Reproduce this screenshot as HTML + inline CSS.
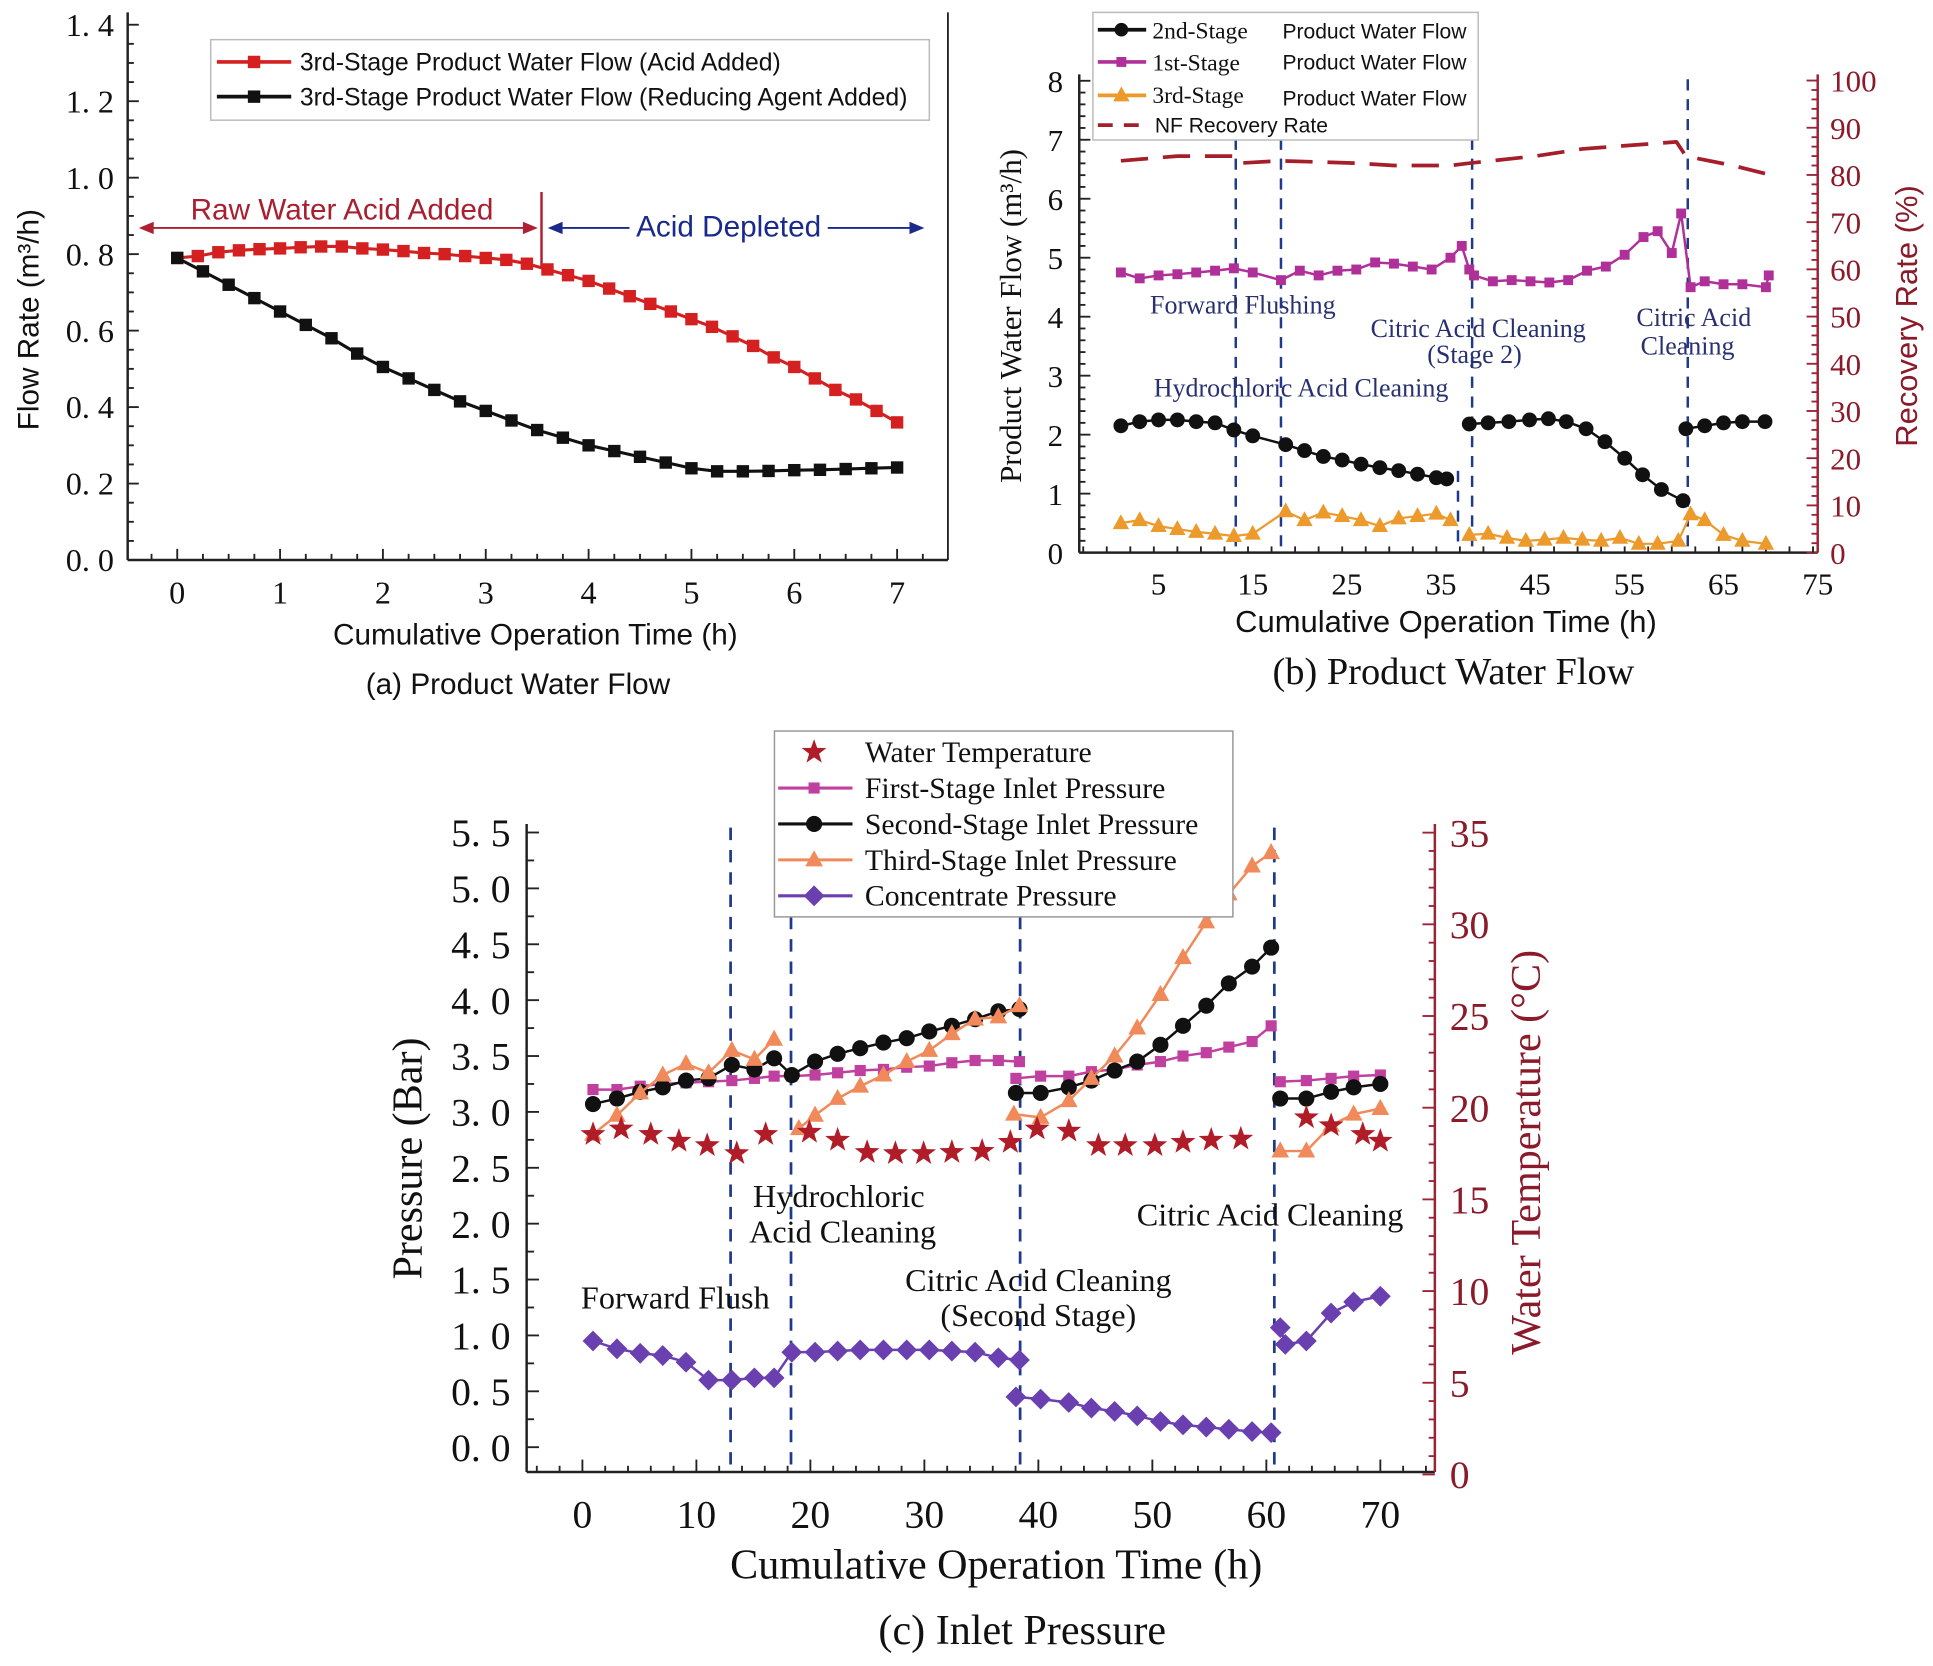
<!DOCTYPE html>
<html><head><meta charset="utf-8">
<style>
html,body{margin:0;padding:0;background:#fff;}
svg{display:block;}
text{font-family:"Liberation Serif",serif;}
.sans{font-family:"Liberation Sans",sans-serif;}
</style></head>
<body>
<svg id="fig" xmlns="http://www.w3.org/2000/svg" width="1933" height="1666" viewBox="0 0 1560 1344.6"></svg>
<script>
// ---------- Panel (a) data ----------
const aRedT = [0,0.2,0.4,0.6,0.8,1,1.2,1.4,1.6,1.8,2,2.2,2.4,2.6,2.8,3,3.2,3.4,3.6,3.8,4,4.2,4.4,4.6,4.8,5,5.2,5.4,5.6,5.8,6,6.2,6.4,6.6,6.8,7];
const aRedV = [0.79,0.795,0.805,0.81,0.813,0.815,0.818,0.82,0.82,0.815,0.812,0.808,0.803,0.80,0.795,0.79,0.785,0.775,0.76,0.745,0.73,0.71,0.69,0.67,0.65,0.63,0.61,0.585,0.56,0.53,0.505,0.475,0.445,0.42,0.39,0.36];
const aBlkT = [0,0.25,0.5,0.75,1,1.25,1.5,1.75,2,2.25,2.5,2.75,3,3.25,3.5,3.75,4,4.25,4.5,4.75,5,5.25,5.5,5.75,6,6.25,6.5,6.75,7];
const aBlkV = [0.79,0.755,0.72,0.685,0.65,0.615,0.58,0.54,0.505,0.475,0.445,0.415,0.39,0.365,0.34,0.32,0.30,0.285,0.27,0.255,0.24,0.232,0.232,0.233,0.235,0.236,0.238,0.24,0.242];
const aYTicks = [0,0.2,0.4,0.6,0.8,1.0,1.2,1.4];
const aYLabels = ["0. 0","0. 2","0. 4","0. 6","0. 8","1. 0","1. 2","1. 4"];
const aXTicks = [0,1,2,3,4,5,6,7];

// ---------- Panel (b) data ----------
const b2T = [[1,3,5,7,9,11,13,15,18.5,20.5,22.5,24.5,26.5,28.5,30.5,32.5,34.5,35.6],[38,40,42.2,44.4,46.4,48.3,50.4,52.4,54.5,56.4,58.4,60.7],[61,63,65,67,69.4]];
const b2V = [[2.15,2.22,2.25,2.25,2.22,2.2,2.08,1.98,1.83,1.73,1.63,1.57,1.5,1.44,1.39,1.33,1.27,1.25],[2.18,2.2,2.22,2.25,2.27,2.22,2.1,1.88,1.6,1.32,1.07,0.88],[2.1,2.15,2.2,2.22,2.22]];
const b1T = [[1,3,5,7,9,11,13,15,18,20,22,24,26,28,30,32,34,36,37.2,38],[38.5,40.5,42.5,44.5,46.5,48.5,50.5,52.5,54.5,56.5,58,59.5,60.5,61.5,63,65,67,69.5,69.8]];
const b1V = [[4.75,4.65,4.7,4.72,4.75,4.78,4.82,4.75,4.62,4.78,4.7,4.78,4.8,4.92,4.9,4.85,4.8,5.0,5.2,4.8],[4.7,4.6,4.62,4.6,4.58,4.62,4.78,4.85,5.05,5.35,5.45,5.08,5.75,4.5,4.6,4.55,4.55,4.5,4.7]];
const b3T = [[1,3,5,7,9,11,13,15,18.5,20.5,22.5,24.5,26.5,28.5,30.5,32.5,34.5,36],[38,40,42,44,46,48,50,52,54,56,58,60.2,61.5,63,65,67,69.5]];
const b3V = [[0.5,0.55,0.45,0.4,0.35,0.32,0.28,0.32,0.7,0.55,0.68,0.62,0.55,0.45,0.58,0.62,0.66,0.55],[0.3,0.32,0.25,0.2,0.22,0.25,0.22,0.2,0.25,0.15,0.15,0.2,0.65,0.55,0.3,0.2,0.15]];
const bRecT = [1,7,13,13.5,18,26,30,36,38,45,50,60,61,66,70];
const bRecV = [83,84,84,82.5,83,82.5,82,82,82.5,84,85.5,87,84,82,80];
const bYTicks = [0,1,2,3,4,5,6,7,8];
const bRTicks = [0,10,20,30,40,50,60,70,80,90,100];
const bXTicks = [5,15,25,35,45,55,65,75];
const bVLines = [13.2,18,38.3,61.2];

// ---------- Panel (c) data ----------
const cConT = [[0.93,3.03,5.07,7.05,9.09,11.07,13.11,15.09,16.82,18.37,20.41,22.39,24.37,26.41,28.45,30.43,32.41,34.45,36.49,38.34],[38.03,40.2,42.67,44.65,46.69,48.67,50.71,52.69,54.73,56.71,58.75,60.42],[61.22,61.66,63.51,65.68,67.66,70]];
const cConV = [[0.95,0.88,0.84,0.82,0.76,0.6,0.6,0.62,0.62,0.85,0.85,0.86,0.87,0.87,0.87,0.87,0.86,0.85,0.8,0.78],[0.45,0.43,0.4,0.35,0.32,0.28,0.23,0.2,0.18,0.16,0.14,0.13],[1.07,0.92,0.95,1.2,1.3,1.35]];
const c1T = [[0.93,3.03,5.07,7.05,9.09,11.07,13.11,15.09,16.82,18.37,20.41,22.39,24.37,26.41,28.45,30.43,32.41,34.45,36.49,38.34],[38.03,40.2,42.67,44.65,46.69,48.67,50.71,52.69,54.73,56.71,58.75,60.42],[61.22,63.51,65.68,67.66,70]];
const c1V = [[3.2,3.2,3.23,3.25,3.26,3.27,3.28,3.3,3.32,3.32,3.33,3.35,3.37,3.38,3.4,3.41,3.44,3.46,3.46,3.45],[3.3,3.32,3.32,3.36,3.38,3.42,3.45,3.5,3.53,3.58,3.63,3.77],[3.27,3.28,3.3,3.32,3.33]];
const c2T = [[0.93,3.03,5.07,7.05,9.09,11.07,13.11,15.09,16.82,18.37,20.41,22.39,24.37,26.41,28.45,30.43,32.41,34.45,36.49,38.34],[38.03,40.2,42.67,44.65,46.69,48.67,50.71,52.69,54.73,56.71,58.75,60.42],[61.22,63.51,65.68,67.66,70]];
const c2V = [[3.07,3.12,3.18,3.22,3.28,3.3,3.42,3.38,3.48,3.33,3.45,3.52,3.57,3.62,3.66,3.72,3.77,3.83,3.9,3.92],[3.17,3.17,3.22,3.28,3.37,3.45,3.6,3.77,3.95,4.15,4.3,4.47],[3.12,3.12,3.18,3.22,3.25]];
const c3T = [[0.93,3.03,5.07,7.05,9.09,11.07,13.11,15.09,16.82],[18.99,20.41,22.39,24.37,26.41,28.45,30.43,32.41,34.45,36.49,38.34],[37.85,40.2,42.67,44.65,46.69,48.67,50.71,52.69,54.73,56.71,58.75,60.42],[61.22,63.51,65.68,67.66,70]];
const c3V = [[2.8,2.97,3.17,3.33,3.43,3.35,3.55,3.47,3.65],[2.85,2.97,3.12,3.23,3.33,3.45,3.55,3.7,3.83,3.85,3.95],[2.98,2.95,3.1,3.3,3.5,3.75,4.05,4.38,4.7,4.95,5.2,5.32],[2.65,2.65,2.88,2.98,3.03]];
const cTempT = [0.93,3.4,6.0,8.47,10.95,13.54,16.08,19.91,22.39,24.98,27.46,29.93,32.41,35.07,37.54,39.89,42.67,45.27,47.62,50.22,52.69,55.16,57.76,63.51,65.68,68.46,70];
const cTempV = [18.55,18.85,18.55,18.18,17.94,17.51,18.55,18.67,18.24,17.57,17.51,17.51,17.57,17.63,18.12,18.85,18.73,17.94,17.94,17.94,18.12,18.24,18.3,19.46,19.03,18.55,18.18];
const cYTicks = [0,0.5,1,1.5,2,2.5,3,3.5,4,4.5,5,5.5];
const cYLabels = ["0. 0","0. 5","1. 0","1. 5","2. 0","2. 5","3. 0","3. 5","4. 0","4. 5","5. 0","5. 5"];
const cRTicks = [0,5,10,15,20,25,30,35];
const cXTicks = [0,10,20,30,40,50,60,70];
const cVLines = [13,18.3,38.4,60.7];

const NS = "http://www.w3.org/2000/svg";
const svg = document.getElementById('fig');
function mk(tag, attrs, parent){
  const e = document.createElementNS(NS, tag);
  for (const k in attrs) e.setAttribute(k, attrs[k]);
  (parent||svg).appendChild(e);
  return e;
}
function txt(s, x, y, size, opts, parent){
  opts = opts||{};
  const e = mk('text', {x:x, y:y, 'font-size':size, fill:opts.fill||'#111', 'text-anchor':opts.anchor||'middle'}, parent);
  if (opts.cls) e.setAttribute('class', opts.cls);
  if (opts.rot) e.setAttribute('transform', 'rotate(-90 '+x+' '+y+')');
  e.textContent = s;
  return e;
}
function marker(type, x, y, s, fill, parent){
  let e;
  if (type==='sq') e = mk('rect',{x:x-s/2,y:y-s/2,width:s,height:s,fill:fill},parent);
  else if (type==='ci') e = mk('circle',{cx:x,cy:y,r:s/2,fill:fill},parent);
  else if (type==='tr') e = mk('polygon',{points:(x)+','+(y-s*0.6)+' '+(x-s*0.55)+','+(y+s*0.4)+' '+(x+s*0.55)+','+(y+s*0.4),fill:fill},parent);
  else if (type==='di') e = mk('polygon',{points:x+','+(y-s*0.6)+' '+(x+s*0.6)+','+y+' '+x+','+(y+s*0.6)+' '+(x-s*0.6)+','+y,fill:fill},parent);
  else if (type==='st'){
    let p=[]; for(let i=0;i<10;i++){const r=i%2?s*0.25:s*0.62; const a=-Math.PI/2+i*Math.PI/5; p.push((x+r*Math.cos(a)).toFixed(1)+','+(y+r*Math.sin(a)).toFixed(1));}
    e = mk('polygon',{points:p.join(' '),fill:fill},parent);
  }
  
  
  return e;
}
function series(name, T, V, xf, yf, color, mtype, ms, lw, noLine, dash){
  const g = mk('g', {});
  
  
  if (!noLine){
    const pts = T.map((t,i)=>xf(t).toFixed(1)+','+yf(V[i]).toFixed(1)).join(' ');
    const pl = mk('polyline',{points:pts,fill:'none',stroke:color,'stroke-width':lw,'stroke-linejoin':'round'},g);
    if (dash) pl.setAttribute('stroke-dasharray', dash);
  }
  if (mtype) T.forEach((t,i)=>marker(mtype, xf(t), yf(V[i]), ms, color, g));
  return g;
}
function line(x1,y1,x2,y2,color,w,dash,parent){
  const e = mk('line',{x1:x1,y1:y1,x2:x2,y2:y2,stroke:color,'stroke-width':w},parent);
  if (dash) e.setAttribute('stroke-dasharray',dash);
  return e;
}

// ================= Panel (a) =================
const xa = t=>143+t*83, ya = v=>452-v*308.6;
const ga = mk('g',{});  
line(103,10,103,452,'#222',2,null,ga); line(103,452,765,452,'#222',2,null,ga); line(765,10,765,452,'#222',1.5,null,ga);
for (let v=0; v<=1.4001; v+=0.05){ const major = Math.abs(v*5-Math.round(v*5))<1e-6; line(103,ya(v),103+(major?9:5),ya(v),'#222',1.5,null,ga); }
aYTicks.forEach((v,i)=>txt(aYLabels[i],92,ya(v)+9,26,{anchor:'end'},ga));
for (let t=-0.5; t<=7.5001; t+=0.25){ const x=xa(t); if(x<104||x>764) continue; const major=Math.abs(t-Math.round(t))<1e-6; line(x,452,x,452-(major?9:5),'#222',1.5,null,ga); }
aXTicks.forEach(t=>txt(String(t),xa(t),487,26,{},ga));
txt('Flow Rate (m\u00b3/h)',31,258,24,{rot:true,cls:'sans'},ga);
txt('Cumulative Operation Time (h)',432,520,24,{cls:'sans'},ga);
txt('(a) Product Water Flow',418,560,24,{cls:'sans'},ga);
series('series-acid-added',aRedT,aRedV,xa,ya,'#d42020','sq',10,2.5);
series('series-reducing-agent',aBlkT,aBlkV,xa,ya,'#111','sq',10,2.5);
line(437,155,437,215,'#b02030',2,null,ga);
line(118,184,430,184,'#b02030',1.5,null,ga);
mk('polygon',{points:'112,184 124,179 124,189',fill:'#b02030'},ga);
mk('polygon',{points:'434,184 422,179 422,189',fill:'#b02030'},ga);
txt('Raw Water Acid Added',276,177,24,{fill:'#a82030',cls:'sans'},ga);
line(448,184,740,184,'#1a2a8a',1.5,null,ga);
mk('polygon',{points:'442,184 454,179 454,189',fill:'#1a2a8a'},ga);
mk('polygon',{points:'746,184 734,179 734,189',fill:'#1a2a8a'},ga);
mk('rect',{x:508,y:168,width:160,height:28,fill:'#fff'},ga);
txt('Acid Depleted',588,191,24,{fill:'#1a2a8a',cls:'sans'},ga);
const la = mk('g',{});  
mk('rect',{x:170,y:32,width:580,height:65,fill:'#fff',stroke:'#bbb','stroke-width':1.2},la);
line(175,50,235,50,'#d42020',3,null,la); marker('sq',205,50,10,'#d42020',la);
txt('3rd-Stage Product Water Flow (Acid Added)',242,57,20,{anchor:'start',cls:'sans'},la);
line(175,78,235,78,'#111',3,null,la); marker('sq',205,78,10,'#111',la);
txt('3rd-Stage Product Water Flow (Reducing Agent Added)',242,85,20,{anchor:'start',cls:'sans'},la);

// ================= Panel (b) =================
const xb = t=>897+t*7.6, yb = v=>446-v*47.6, yrb = p=>446-p*3.81;
const gb = mk('g',{});  
line(871,60,871,446,'#222',2,null,gb); line(871,446,1467,446,'#222',2,null,gb); line(1467,60,1467,446,'#9b2335',2,null,gb);
for (let v=0; v<=8.001; v+=0.2){ const major=Math.abs(v-Math.round(v))<1e-6; line(871,yb(v),871+(major?9:5),yb(v),'#222',1.5,null,gb); }
bYTicks.forEach(v=>txt(String(v),858,yb(v)+9,25,{anchor:'end'},gb));
for (let p=0; p<=100.01; p+=2){ const major=p%10===0; line(1467,yrb(p),1467-(major?9:5),yrb(p),'#9b2335',1.5,null,gb); }
bRTicks.forEach(p=>txt(String(p),1477,yrb(p)+9,25,{anchor:'start',fill:'#8b1a2a'},gb));
for (let t=-3; t<=75.01; t+=2.5){ const x=xb(t); if(x<872) continue; const major=(t-5)%10===0; line(x,446,x,446-(major?9:5),'#222',1.5,null,gb); }
bXTicks.forEach(t=>txt(String(t),xb(t),480,25,{},gb));
txt('Product Water Flow (m\u00b3/h)',824,255,25,{rot:true},gb);
txt('Recovery Rate (%)',1547,255,25,{rot:true,fill:'#8b1a2a',cls:'sans'},gb);
txt('Cumulative Operation Time (h)',1167,510,25,{cls:'sans'},gb);
txt('(b) Product Water Flow',1173,552,31,{},gb);
bVLines.forEach(t=>{const e=line(xb(t),64,xb(t),446,'#1f3a8a',2,'9,7',gb); });
line(xb(36.8),380,xb(36.8),440,'#1f3a8a',2,'9,7',gb);
series('series-recovery-rate',bRecT,bRecV,xb,yrb,'#a51e2a',null,0,3,false,'22,12');
b1T.forEach((T,i)=>series('series-1st-stage',T,b1V[i],xb,yb,'#b0309a','sq',8,2));
b2T.forEach((T,i)=>series('series-2nd-stage',T,b2V[i],xb,yb,'#111','ci',12,2));
b3T.forEach((T,i)=>series('series-3rd-stage',T,b3V[i],xb,yb,'#ec9a2c','tr',12,1.8));
const nb='#283070';
txt('Forward Flushing',1003,253,21,{fill:nb},gb);
txt('Hydrochloric Acid Cleaning',1050,320,21,{fill:nb},gb);
txt('Citric Acid Cleaning',1193,272,21,{fill:nb},gb);
txt('(Stage 2)',1190,293,21,{fill:nb},gb);
txt('Citric Acid',1367,263,21,{fill:nb},gb);
txt('Cleaning',1362,286,21,{fill:nb},gb);
const lb = mk('g',{});  
mk('rect',{x:882,y:10,width:311,height:103,fill:'#fff',stroke:'#bbb','stroke-width':1.2},lb);
line(886,24,925,24,'#111',3,null,lb); marker('ci',905,24,11,'#111',lb);
txt('2nd-Stage',930,31,19,{anchor:'start'},lb); txt('Product Water Flow',1035,31,17,{anchor:'start',cls:'sans'},lb);
line(886,50,925,50,'#b0309a',3,null,lb); marker('sq',905,50,8,'#b0309a',lb);
txt('1st-Stage',930,57,19,{anchor:'start'},lb); txt('Product Water Flow',1035,56,17,{anchor:'start',cls:'sans'},lb);
line(886,77,925,77,'#ec9a2c',3,null,lb); marker('tr',905,77,12,'#ec9a2c',lb);
txt('3rd-Stage',930,83,19,{anchor:'start'},lb); txt('Product Water Flow',1035,85,17,{anchor:'start',cls:'sans'},lb);
line(886,101,925,101,'#a51e2a',3,'12,9',lb);
txt('NF Recovery Rate',932,107,17,{anchor:'start',cls:'sans'},lb);

// ================= Panel (c) =================
const xc = t=>470+t*9.2, yc = p=>1168-p*90.2, ytc = T=>1190-T*14.8;
const gc = mk('g',{});  
line(425,665,425,1188,'#222',2,null,gc); line(425,1188,1158,1188,'#222',2,null,gc); line(1158,665,1158,1188,'#9b2335',2,null,gc);
for (let p=0; p<=5.501; p+=0.25){ const major=Math.abs(p*2-Math.round(p*2))<1e-6; line(425,yc(p),425+(major?10:6),yc(p),'#222',1.5,null,gc); }
cYTicks.forEach((p,i)=>txt(cYLabels[i],412,yc(p)+11,32,{anchor:'end'},gc));
for (let T=0; T<=35.01; T+=1){ const major=T%5===0; line(1158,ytc(T),1158-(major?10:5),ytc(T),'#9b2335',1.5,null,gc); }
cRTicks.forEach(T=>txt(String(T),1170,ytc(T)+11,32,{anchor:'start',fill:'#8b1a2a'},gc));
for (let t=-4; t<=74.01; t+=2){ const x=xc(t); if(x<426||x>1157) continue; const major=t%10===0; line(x,1188,x,1188-(major?10:5),'#222',1.5,null,gc); }
cXTicks.forEach(t=>txt(String(t),xc(t),1233,32,{},gc));
txt('Pressure (Bar)',340,935,34,{rot:true},gc);
txt('Water Temperature (\u00b0C)',1243,930,34,{rot:true,fill:'#8b1a2a'},gc);
txt('Cumulative Operation Time (h)',804,1274,34,{},gc);
txt('(c) Inlet Pressure',825,1327,34,{},gc);
cVLines.forEach(t=>{const e=line(xc(t),668,xc(t),1188,'#1f3a8a',2.2,'10,8',gc); });
c1T.forEach((T,i)=>series('series-first-stage-inlet',T,c1V[i],xc,yc,'#c040a0','sq',9,2));
c2T.forEach((T,i)=>series('series-second-stage-inlet',T,c2V[i],xc,yc,'#111','ci',13,2));
c3T.forEach((T,i)=>series('series-third-stage-inlet',T,c3V[i],xc,yc,'#f08a5a','tr',13,2));
cConT.forEach((T,i)=>series('series-concentrate',T,cConV[i],xc,yc,'#6a3fb0','di',14,2));
series('series-water-temperature',cTempT,cTempV,xc,ytc,'#b01c28','st',17,0,true);
txt('Forward Flush',545,1056,26,{},gc);
txt('Hydrochloric',677,974,26,{},gc);
txt('Acid Cleaning',680,1003,26,{},gc);
txt('Citric Acid Cleaning',838,1042,26,{},gc);
txt('(Second Stage)',838,1070,26,{},gc);
txt('Citric Acid Cleaning',1025,989,26,{},gc);
const lc = mk('g',{});  
mk('rect',{x:625,y:590,width:370,height:150,fill:'#fff',stroke:'#999','stroke-width':1.2},lc);
marker('st',657,607,17,'#b01c28',lc);
txt('Water Temperature',698,615,24,{anchor:'start'},lc);
line(628,636,688,636,'#c040a0',2.5,null,lc); marker('sq',657,636,9,'#c040a0',lc);
txt('First-Stage Inlet Pressure',698,644,24,{anchor:'start'},lc);
line(628,665,688,665,'#111',2.5,null,lc); marker('ci',657,665,13,'#111',lc);
txt('Second-Stage Inlet Pressure',698,673,24,{anchor:'start'},lc);
line(628,694,688,694,'#f08a5a',2.5,null,lc); marker('tr',657,694,13,'#f08a5a',lc);
txt('Third-Stage Inlet Pressure',698,702,24,{anchor:'start'},lc);
line(628,723,688,723,'#6a3fb0',2.5,null,lc); marker('di',657,723,14,'#6a3fb0',lc);
txt('Concentrate Pressure',698,731,24,{anchor:'start'},lc);
</script>
</body></html>
